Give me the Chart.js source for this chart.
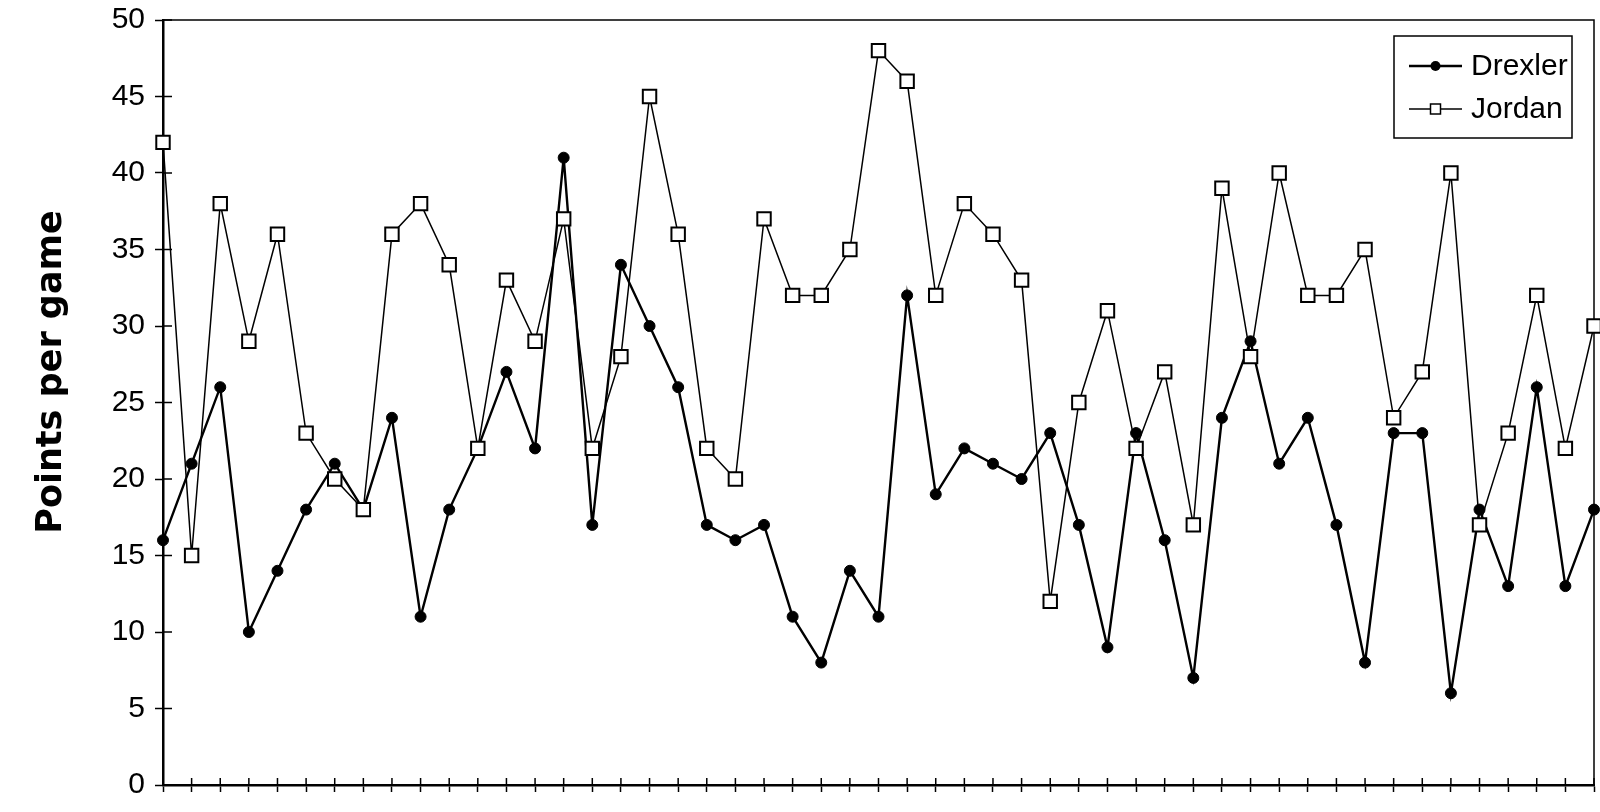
<!DOCTYPE html>
<html>
<head>
<meta charset="utf-8">
<script src="https://cdn.jsdelivr.net/npm/chart.js@4.4.1/dist/chart.umd.min.js"></script>
<style>
  html, body { margin: 0; padding: 0; background: #fff; }
  canvas { display: block; }
</style>
</head>
<body>
<canvas id="chart" width="1600" height="812"></canvas>
<script>
// games in the season (one tick per game)
const games = [1, 2, 3, 4, 5, 6, 7, 8, 9, 10, 11, 12, 13, 14, 15, 16, 17, 18, 19, 20,
  21, 22, 23, 24, 25, 26, 27, 28, 29, 30, 31, 32, 33, 34, 35, 36, 37, 38, 39, 40,
  41, 42, 43, 44, 45, 46, 47, 48, 49, 50, 51];

const drexler = [16, 21, 26, 10, 14, 18, 21, 18, 24, 11, 18, 22, 27, 22, 41, 17, 34, 30, 26, 17,
  16, 17, 11, 8, 14, 11, 32, 19, 22, 21, 20, 23, 17, 9, 23, 16, 7, 24, 29, 21,
  24, 17, 8, 23, 23, 6, 18, 13, 26, 13, 18];

const jordan = [42, 15, 38, 29, 36, 23, 20, 18, 36, 38, 34, 22, 33, 29, 37, 22, 28, 45, 36, 22,
  20, 37, 32, 32, 35, 48, 46, 32, 38, 36, 33, 12, 25, 31, 22, 27, 17, 39, 28, 40,
  32, 32, 35, 24, 27, 40, 17, 23, 32, 22, 30];

const yTicks = [0, 5, 10, 15, 20, 25, 30, 35, 40, 45, 50];
const yTitle = 'Points per game';

const tickFont = { family: '"Liberation Sans", Arial, sans-serif', size: 30 };

// frame around the plot plus the inner half of each "+" tick
const frameTicks = {
  id: 'frameTicks',
  beforeDatasetsDraw(chart) {
    const { ctx, chartArea: a, scales: { x, y } } = chart;
    ctx.save();
    ctx.strokeStyle = '#000';
    ctx.lineWidth = 1.5;
    ctx.strokeRect(a.left, a.top, a.right - a.left, a.bottom - a.top);
    ctx.beginPath();
    y.ticks.forEach((t, i) => {
      const py = y.getPixelForTick(i);
      ctx.moveTo(a.left, py);
      ctx.lineTo(a.left + 9, py);
    });
    x.ticks.forEach((t, i) => {
      const px = x.getPixelForTick(i);
      ctx.moveTo(px, a.bottom);
      ctx.lineTo(px, a.bottom - 7);
    });
    ctx.stroke();
    ctx.restore();
  }
};

// rotated y title, sits a bit above the middle like the original
const sideTitle = {
  id: 'sideTitle',
  afterDraw(chart) {
    const { ctx } = chart;
    ctx.save();
    ctx.translate(52, 372);
    ctx.rotate(-Math.PI / 2);
    ctx.font = 'bold 35px "DejaVu Sans", sans-serif';
    ctx.fillStyle = '#000';
    ctx.textAlign = 'center';
    ctx.textBaseline = 'middle';
    ctx.fillText(yTitle, 0, 0);
    ctx.restore();
  }
};

// boxed legend inside the top right corner
const boxLegend = {
  id: 'boxLegend',
  afterDraw(chart) {
    const { ctx, chartArea: a } = chart;
    const left = a.right - 200, top = a.top + 16, w = 178, h = 102;
    ctx.save();
    ctx.fillStyle = '#fff';
    ctx.fillRect(left, top, w, h);
    ctx.strokeStyle = '#000';
    ctx.lineWidth = 1.5;
    ctx.strokeRect(left, top, w, h);
    chart.data.datasets.forEach((ds, i) => {
      const cy = top + 30 + i * 43;
      const x0 = left + 15, x1 = left + 68, cx = (x0 + x1) / 2;
      ctx.lineWidth = ds.borderWidth;
      ctx.beginPath();
      ctx.moveTo(x0, cy);
      ctx.lineTo(x1, cy);
      ctx.stroke();
      ctx.lineWidth = 1.5;
      ctx.fillStyle = ds.pointBackgroundColor;
      if (ds.pointStyle === 'rect') {
        ctx.fillRect(cx - 5, cy - 5, 10, 10);
        ctx.strokeRect(cx - 5, cy - 5, 10, 10);
      } else {
        ctx.beginPath();
        ctx.arc(cx, cy, 5, 0, Math.PI * 2);
        ctx.fill();
      }
      ctx.fillStyle = '#000';
      ctx.font = '30px "Liberation Sans", Arial, sans-serif';
      ctx.textBaseline = 'middle';
      ctx.fillText(ds.label, left + 77, cy + 1);
    });
    ctx.restore();
  }
};

new Chart(document.getElementById('chart'), {
  type: 'line',
  data: {
    labels: games,
    datasets: [
      {
        label: 'Drexler',
        data: drexler,
        borderColor: '#000',
        borderWidth: 2.4,
        pointStyle: 'circle',
        pointRadius: 5.5,
        pointBackgroundColor: '#000',
        pointBorderColor: '#000',
        pointBorderWidth: 1,
        tension: 0,
        clip: false,
        order: 1
      },
      {
        label: 'Jordan',
        data: jordan,
        borderColor: '#000',
        borderWidth: 1.5,
        pointStyle: 'rect',
        pointRadius: 9.5,
        pointBackgroundColor: '#fff',
        pointBorderColor: '#000',
        pointBorderWidth: 2,
        tension: 0,
        clip: false,
        order: 0
      }
    ]
  },
  options: {
    responsive: false,
    animation: false,
    layout: { autoPadding: false, padding: { top: 20, right: 6, bottom: 0, left: 0 } },
    plugins: {
      legend: { display: false },
      tooltip: { enabled: false }
    },
    scales: {
      x: {
        type: 'category',
        afterFit: s => { s.height = 27; s.paddingLeft = 0; s.paddingRight = 0; },
        border: { color: '#000', width: 2.5 },
        grid: { drawOnChartArea: false, tickLength: 7, tickWidth: 1.5, tickColor: '#000' },
        ticks: { display: false }
      },
      y: {
        min: 0,
        max: 50,
        afterBuildTicks: s => { s.ticks = yTicks.map(v => ({ value: v })); },
        afterFit: s => { s.width = 163; s.paddingTop = 0; s.paddingBottom = 0; },
        border: { color: '#000', width: 2.5 },
        grid: { drawOnChartArea: false, tickLength: 8, tickWidth: 1.5, tickColor: '#000' },
        ticks: { color: '#000', font: tickFont, padding: 10 }
      }
    }
  },
  plugins: [frameTicks, sideTitle, boxLegend]
});
</script>
</body>
</html>
